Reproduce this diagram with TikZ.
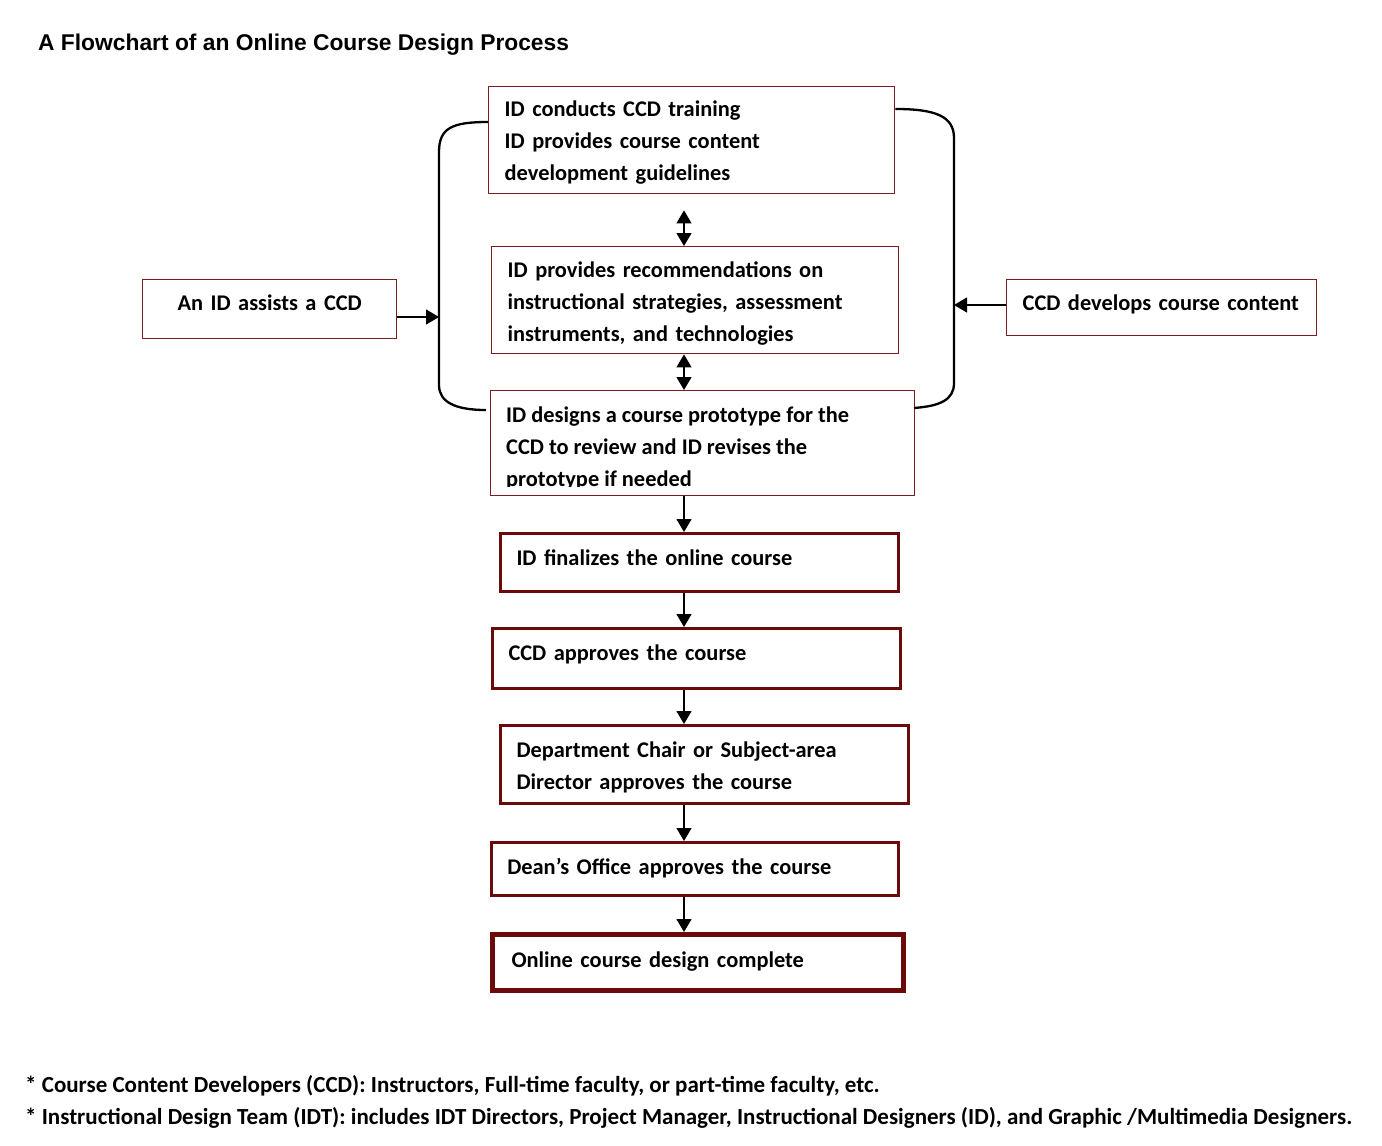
\documentclass[tikz,border=0pt]{standalone}
\usepackage{fontspec}
\setmainfont{Carlito}
\newfontfamily\titlefont{Liberation Sans}
\usetikzlibrary{arrows.meta}
\definecolor{boxred}{HTML}{7A1E1E}
\definecolor{deepred}{HTML}{6A0A0A}
\newcommand\topst[1]{\rule{0pt}{#1pt}}
\newcommand\botst[1]{\rule[-#1pt]{0pt}{#1pt}}
\begin{document}
\begin{tikzpicture}[x=1pt,y=-1pt,
  txt/.style={font=\fontsize{22.4}{32}\selectfont\bfseries},
  thinbox/.style={draw=boxred,line width=1.4pt,rectangle,txt,align=left,inner ysep=0pt,anchor=north west},
  thickbox/.style={thinbox,line width=3pt,draw=deepred},
  arr/.style={-{Triangle[length=13pt,width=15pt]},line width=1.2pt},
  darr/.style={{Triangle[length=13pt,width=15pt]}-{Triangle[length=13pt,width=15pt]},line width=1.2pt},
  brk/.style={line width=2.3pt}]
\useasboundingbox (0,0) rectangle (1382,1146);
\fill[white] (0,0) rectangle (1382,1146);

\node[anchor=west,font=\titlefont\fontsize{22.8}{26}\selectfont\bfseries,inner sep=0pt] (title) at (38,45) {A Flowchart of an Online Course Design Process};

% boxes
\node[thinbox,minimum width=406pt,minimum height=107pt,text width=374pt,inner xsep=16pt] (b1) at (488,86)
  {\topst{27}ID conducts CCD training\\ID provides course content\\development guidelines\botst{10}};
\node[thinbox,minimum width=407pt,minimum height=107pt,text width=375pt,inner xsep=16pt] (b2) at (491,246)
  {\topst{29}ID provides recommendations on\\instructional strategies, assessment\\instruments, and technologies\botst{10}};
\node[thinbox,minimum width=424pt,minimum height=105pt,inner xsep=16pt] (b3) at (490,390) {};
\begin{scope}
\clip (b3.north west) rectangle ([yshift=10pt]b3.south east);
\node[txt,align=left,anchor=north west,inner sep=0pt] (b3t) at (506,407)
  {ID designs a course prototype for the\\CCD to review and ID revises the\\prototype if needed};
\end{scope}
\node[thickbox,minimum width=398pt,minimum height=58pt,text width=366pt,inner xsep=16pt] (b4) at (499,532)
  {\topst{22}ID finalizes the online course\botst{16}};
\node[thickbox,minimum width=408pt,minimum height=60pt,text width=376pt,inner xsep=16pt] (b5) at (491,627)
  {\topst{20}CCD approves the course\botst{16}};
\node[thickbox,minimum width=408pt,minimum height=78pt,text width=376pt,inner xsep=16pt] (b6) at (499,724)
  {\topst{28}Department Chair or Subject-area\\Director approves the course\botst{10}};
\node[thickbox,line width=2.6pt,minimum width=407pt,minimum height=53pt,text width=375pt,inner xsep=16pt] (b7) at (490,841)
  {\topst{22}Dean’s Office approves the course\botst{11}};
\node[thickbox,line width=5pt,minimum width=411pt,minimum height=56pt,text width=373pt,inner xsep=19pt] (b8) at (490,932)
  {\topst{22}Online course design complete\botst{12}};
\node[thinbox,minimum width=254pt,minimum height=59pt,text width=222pt,inner xsep=16pt,align=center] (left) at (142,279)
  {\topst{21}An ID assists a CCD\botst{18}};
\node[thinbox,minimum width=310pt,minimum height=56pt,text width=278pt,inner xsep=16pt] (right) at (1006,279)
  {\topst{22}CCD develops course content\botst{16}};

% brackets
\coordinate (lb) at (439,317);
\coordinate (rb) at (954,305);
\draw[brk] ([yshift=-36pt]b1.north west) .. controls (452,122) and (439,128) .. (439,152) -- (439,385)
  .. controls (439,402) and (455,410) .. (486,410);
\draw[brk] ([yshift=-23pt]b1.north east) .. controls (935,109) and (954,116) .. (954,138) -- (954,383)
  .. controls (954,400) and (940,406) .. (914,408);

% side arrows
\draw[arr] (left.east |- lb) -- (lb);
\draw[arr] (right.west |- rb) -- (rb);

% double arrows
\draw[darr] ([yshift=-16pt]b1.south -| 684,0) -- (b2.north -| 684,0);
\draw[darr] (b2.south -| 684,0) -- (b3.north -| 684,0);

% down arrows
\draw[arr] (b3.south -| 684,0) -- (b4.north -| 684,0);
\draw[arr] (b4.south -| 684,0) -- (b5.north -| 684,0);
\draw[arr] (b5.south -| 684,0) -- (b6.north -| 684,0);
\draw[arr] (b6.south -| 684,0) -- (b7.north -| 684,0);
\draw[arr] (b7.south -| 684,0) -- (b8.north -| 684,0);

% footnotes
\node[font=\fontsize{23}{32}\selectfont\bfseries,anchor=west,inner sep=0pt] (fn1) at (25,1086) {* Course Content Developers (CCD): Instructors, Full-time faculty, or part-time faculty, etc.};
\node[font=\fontsize{23}{32}\selectfont\bfseries,anchor=west,inner sep=0pt] (fn2) at (25,1118) {* Instructional Design Team (IDT): includes IDT Directors, Project Manager, Instructional Designers (ID), and Graphic /Multimedia Designers.};
\end{tikzpicture}
\end{document}
